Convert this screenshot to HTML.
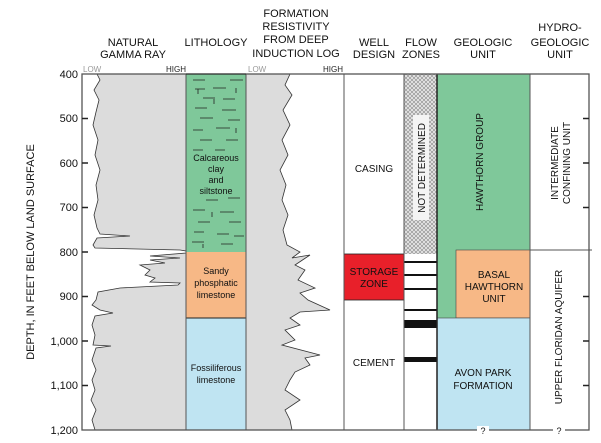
<!DOCTYPE html>
<html><head><style>
html,body{margin:0;padding:0;background:#fff;}
svg{display:block;font-family:"Liberation Sans",Arial,sans-serif;}
</style></head><body>
<svg width="601" height="443" viewBox="0 0 601 443" xmlns="http://www.w3.org/2000/svg">
<defs>
<pattern id="hatch" width="4" height="4" patternUnits="userSpaceOnUse">
<rect width="4" height="4" fill="#e6e6e6"/>
<path d="M0 4L4 0M0 0L4 4" stroke="#888" stroke-width="0.6"/>
</pattern>
</defs>
<!-- headers -->
<g font-size="11" text-anchor="middle" fill="#111">
<text x="133" y="46">NATURAL</text><text x="133" y="58">GAMMA RAY</text>
<text x="216" y="46">LITHOLOGY</text>
<text x="296" y="17">FORMATION</text><text x="296" y="30">RESISTIVITY</text><text x="296" y="43">FROM DEEP</text><text x="296" y="57">INDUCTION LOG</text>
<text x="374" y="46">WELL</text><text x="374" y="58">DESIGN</text>
<text x="421" y="46">FLOW</text><text x="421" y="58">ZONES</text>
<text x="483" y="46">GEOLOGIC</text><text x="483" y="58">UNIT</text>
<text x="560" y="31">HYDRO-</text><text x="560" y="46">GEOLOGIC</text><text x="560" y="58">UNIT</text>
</g>
<g font-size="8">
<text x="83" y="72" fill="#999">LOW</text><text x="186" y="72" fill="#222" text-anchor="end">HIGH</text>
<text x="248" y="72" fill="#999">LOW</text><text x="343" y="72" fill="#222" text-anchor="end">HIGH</text>
</g>
<!-- gamma -->
<rect x="82" y="74" width="104" height="356" fill="#fff"/>
<polygon fill="#dcdcdc" stroke="#333" stroke-width="0.8" points="97,74 100,80 94,90 99,100 96,112 93,125 98,140 95,155 100,170 96,185 98,200 94,215 97,228 100,234 130,236 97,238 93,245 95,248 180,250 186,251 186,253 150,256 180,258 150,260 165,263 140,265 150,270 145,275 155,278 150,282 180,283 178,285 120,288 98,292 96,300 92,305 100,310 113,313 95,316 92,325 95,335 93,345 111,346 96,348 92,360 96,370 92,380 95,390 91,400 96,410 92,420 95,430 186,430 186,74"/>
<!-- lithology -->
<rect x="186" y="74" width="60" height="178" fill="#7fc89a"/>
<rect x="186" y="252" width="60" height="66" fill="#f7b886"/>
<rect x="186" y="318" width="60" height="112" fill="#bfe4f2"/>
<g stroke="#222" stroke-width="0.8">
<path d="M193 80h12M230 80h13M195 89h10M213 88h13M198 89v5M236 88v5M203 98h12M223 99h12M214 99v5M195 108h12M222 110h14M200 118h13M228 120h12M193 130h10M216 128h14M236 128v5M200 140h12M226 140h12M193 150h10M215 150h10M206 200h12M228 198h12M193 210h12M220 212h14M212 212v5M198 222h12M229 222h12M194 232h10M217 234h12M234 236h10M192 242h12M221 244h12M203 244v4"/>
</g>
<g font-size="9" text-anchor="middle" fill="#111">
<text x="216" y="161">Calcareous</text><text x="216" y="172">clay</text><text x="216" y="183">and</text><text x="216" y="194">siltstone</text>
<text x="216" y="274">Sandy</text><text x="216" y="286">phosphatic</text><text x="216" y="298">limestone</text>
<text x="216" y="371">Fossiliferous</text><text x="216" y="383">limestone</text>
</g>
<line x1="186" y1="318" x2="246" y2="318" stroke="#222"/>
<!-- resistivity -->
<polygon fill="#dcdcdc" stroke="#333" stroke-width="0.8" points="246,74 290,74 285,85 292,95 283,110 290,125 282,140 288,155 280,170 286,185 282,200 288,215 283,230 287,245 300,252 292,258 310,255 295,265 305,270 298,280 315,288 300,293 308,300 330,310 300,312 290,318 300,325 285,330 295,340 282,345 320,355 305,358 310,365 295,372 290,380 285,390 300,400 285,410 290,420 292,430 246,430"/>
<!-- well design -->
<rect x="344" y="254" width="60" height="46" fill="#e8202a" stroke="#222" stroke-width="0.8"/>
<g font-size="10" text-anchor="middle" fill="#111">
<text x="374" y="172">CASING</text>
<text x="374" y="275">STORAGE</text><text x="374" y="287">ZONE</text>
<text x="374" y="366">CEMENT</text>
</g>
<!-- flow zones -->
<rect x="404" y="74" width="33" height="180" fill="url(#hatch)"/>
<rect x="413" y="115" width="16" height="105" fill="#f4f4f4"/>
<text transform="translate(425,168) rotate(-90)" font-size="10" text-anchor="middle" fill="#111">NOT DETERMINED</text>
<g fill="#111">
<rect x="404" y="261" width="33" height="2"/>
<rect x="404" y="274" width="33" height="2"/>
<rect x="404" y="288" width="33" height="2"/>
<rect x="404" y="309" width="33" height="2"/>
<rect x="404" y="320" width="33" height="8"/>
<rect x="404" y="357" width="33" height="5"/>
</g>
<!-- geologic -->
<rect x="437" y="74" width="93" height="244" fill="#7fc89a"/>
<rect x="456" y="250" width="74" height="68" fill="#f7b886" stroke="#444" stroke-width="0.6"/>
<rect x="437" y="318" width="93" height="112" fill="#bfe4f2" stroke="#444" stroke-width="0.6"/>
<text transform="translate(483,162) rotate(-90)" font-size="10" text-anchor="middle" fill="#111">HAWTHORN GROUP</text>
<g font-size="10" text-anchor="middle" fill="#111">
<text x="494" y="278">BASAL</text><text x="494" y="290">HAWTHORN</text><text x="494" y="302">UNIT</text>
<text x="483" y="376">AVON PARK</text><text x="483" y="389">FORMATION</text>
</g>
<!-- hydro -->
<line x1="530" y1="250" x2="592" y2="250" stroke="#555"/>
<g font-size="10" text-anchor="middle" fill="#111">
<text transform="translate(558,163) rotate(-90)">INTERMEDIATE</text>
<text transform="translate(570,163) rotate(-90)">CONFINING UNIT</text>
<text transform="translate(562,337) rotate(-90)">UPPER FLORIDAN AQUIFER</text>
</g>
<!-- column lines -->
<g stroke="#555" stroke-width="1" fill="none">
<line x1="186" y1="74" x2="186" y2="430"/>
<line x1="246" y1="74" x2="246" y2="430"/>
<line x1="344" y1="74" x2="344" y2="430"/>
<line x1="404" y1="74" x2="404" y2="430"/>
<line x1="437" y1="74" x2="437" y2="430" stroke="#222" stroke-width="1.5"/>
<line x1="530" y1="74" x2="530" y2="430"/>
<rect x="82" y="74" width="507" height="356" stroke-width="1.3"/>
</g>
<line x1="186" y1="74" x2="246" y2="74" stroke="#222"/>
<!-- ticks -->
<g stroke="#222" stroke-width="1.5">
<path d="M82 118.5h6M82 163h6M82 207.5h6M82 252h6M82 296.5h6M82 341h6M82 385.5h6"/>
<path d="M589 118.5h-6M589 163h-6M589 207.5h-6M589 296.5h-6M589 341h-6M589 385.5h-6"/>
</g>
<g font-size="11" text-anchor="end" fill="#111">
<text x="78" y="78">400</text><text x="78" y="122">500</text><text x="78" y="167">600</text><text x="78" y="211">700</text><text x="78" y="256">800</text><text x="78" y="300">900</text><text x="78" y="345">1,000</text><text x="78" y="389">1,100</text><text x="78" y="434">1,200</text>
</g>
<text transform="translate(34,252) rotate(-90)" font-size="11" text-anchor="middle" fill="#111">DEPTH, IN FEET BELOW LAND SURFACE</text>
<g font-size="9" text-anchor="middle" fill="#111">
<rect x="477" y="426" width="12" height="9" fill="#fff"/><text x="483" y="434">?</text>
<rect x="553" y="426" width="12" height="9" fill="#fff"/><text x="559" y="434">?</text>
</g>
</svg>
</body></html>
